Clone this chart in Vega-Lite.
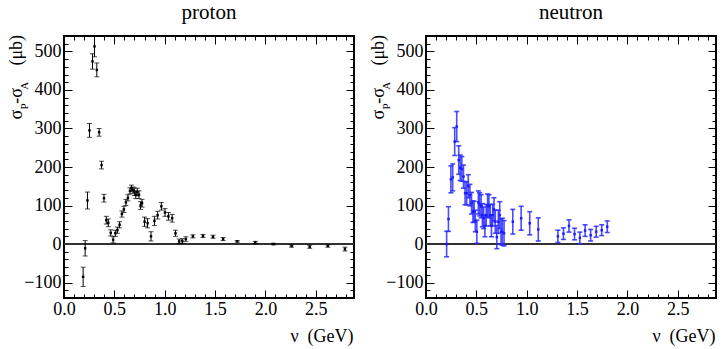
{
  "$schema": "https://vega.github.io/schema/vega-lite/v6.json",
  "background": "white",
  "padding": {"left": 5, "top": 1, "right": 5, "bottom": 5},
  "config": {"view": {"stroke": "black", "strokeWidth": 2}},
  "datasets": {
    "proton": [
      {"nu": 0.19, "sigma": -85, "err": 25},
      {"nu": 0.21, "sigma": -11, "err": 20},
      {"nu": 0.233, "sigma": 113, "err": 22},
      {"nu": 0.253, "sigma": 295, "err": 18},
      {"nu": 0.283, "sigma": 474, "err": 20},
      {"nu": 0.303, "sigma": 513, "err": 27},
      {"nu": 0.326, "sigma": 452, "err": 18},
      {"nu": 0.349, "sigma": 290, "err": 10},
      {"nu": 0.373, "sigma": 205, "err": 10},
      {"nu": 0.397, "sigma": 119, "err": 10},
      {"nu": 0.42, "sigma": 62, "err": 10},
      {"nu": 0.44, "sigma": 55, "err": 10},
      {"nu": 0.464, "sigma": 29, "err": 8},
      {"nu": 0.488, "sigma": 11, "err": 8},
      {"nu": 0.51, "sigma": 28, "err": 8},
      {"nu": 0.53, "sigma": 36, "err": 8},
      {"nu": 0.552, "sigma": 50, "err": 8},
      {"nu": 0.575, "sigma": 78, "err": 8},
      {"nu": 0.595, "sigma": 90, "err": 8},
      {"nu": 0.615, "sigma": 108, "err": 8},
      {"nu": 0.635, "sigma": 120, "err": 8},
      {"nu": 0.655, "sigma": 138, "err": 8},
      {"nu": 0.67, "sigma": 145, "err": 8},
      {"nu": 0.685, "sigma": 140, "err": 8},
      {"nu": 0.698, "sigma": 136, "err": 10},
      {"nu": 0.713, "sigma": 128, "err": 10},
      {"nu": 0.728, "sigma": 135, "err": 10},
      {"nu": 0.745, "sigma": 128, "err": 10},
      {"nu": 0.76, "sigma": 100, "err": 10},
      {"nu": 0.775, "sigma": 106, "err": 10},
      {"nu": 0.8, "sigma": 58, "err": 12},
      {"nu": 0.83, "sigma": 54, "err": 12},
      {"nu": 0.864, "sigma": 20, "err": 12},
      {"nu": 0.898, "sigma": 60, "err": 12},
      {"nu": 0.93, "sigma": 75, "err": 10},
      {"nu": 0.967, "sigma": 98, "err": 10},
      {"nu": 1.003, "sigma": 82, "err": 10},
      {"nu": 1.037, "sigma": 72, "err": 10},
      {"nu": 1.074, "sigma": 67, "err": 10},
      {"nu": 1.107, "sigma": 28, "err": 8},
      {"nu": 1.144, "sigma": 7, "err": 6},
      {"nu": 1.175, "sigma": 8, "err": 6},
      {"nu": 1.21, "sigma": 13, "err": 6},
      {"nu": 1.28, "sigma": 20, "err": 4},
      {"nu": 1.38, "sigma": 21, "err": 4},
      {"nu": 1.48, "sigma": 19, "err": 4},
      {"nu": 1.58, "sigma": 13, "err": 4},
      {"nu": 1.72, "sigma": 7, "err": 2},
      {"nu": 1.9, "sigma": 4, "err": 3},
      {"nu": 2.08, "sigma": 0, "err": 2},
      {"nu": 2.26, "sigma": -5, "err": 3},
      {"nu": 2.44, "sigma": -7, "err": 4},
      {"nu": 2.62, "sigma": -5, "err": 3},
      {"nu": 2.79, "sigma": -13, "err": 5}
    ],
    "neutron": [
      {"nu": 0.205, "sigma": 0, "err": 33},
      {"nu": 0.223, "sigma": 65, "err": 32},
      {"nu": 0.247, "sigma": 168, "err": 35},
      {"nu": 0.265, "sigma": 173, "err": 35},
      {"nu": 0.285, "sigma": 266, "err": 36},
      {"nu": 0.305, "sigma": 305, "err": 39},
      {"nu": 0.325, "sigma": 218, "err": 37},
      {"nu": 0.34, "sigma": 198, "err": 33},
      {"nu": 0.356, "sigma": 195, "err": 32},
      {"nu": 0.372, "sigma": 175, "err": 30},
      {"nu": 0.388, "sigma": 132, "err": 30},
      {"nu": 0.404, "sigma": 132, "err": 30},
      {"nu": 0.42, "sigma": 150, "err": 30},
      {"nu": 0.436, "sigma": 127, "err": 28},
      {"nu": 0.452, "sigma": 106, "err": 28},
      {"nu": 0.466, "sigma": 84, "err": 28},
      {"nu": 0.478, "sigma": 84, "err": 27},
      {"nu": 0.49, "sigma": 60, "err": 28},
      {"nu": 0.505, "sigma": 32, "err": 30},
      {"nu": 0.52, "sigma": 108, "err": 30},
      {"nu": 0.533, "sigma": 103, "err": 30},
      {"nu": 0.547, "sigma": 98, "err": 30},
      {"nu": 0.56, "sigma": 75, "err": 30},
      {"nu": 0.573, "sigma": 68, "err": 28},
      {"nu": 0.585, "sigma": 47, "err": 28},
      {"nu": 0.598, "sigma": 75, "err": 28},
      {"nu": 0.612, "sigma": 100, "err": 30},
      {"nu": 0.625, "sigma": 98, "err": 30},
      {"nu": 0.638, "sigma": 75, "err": 28},
      {"nu": 0.65, "sigma": 47, "err": 28},
      {"nu": 0.662, "sigma": 75, "err": 28},
      {"nu": 0.675, "sigma": 90, "err": 30},
      {"nu": 0.688, "sigma": 58, "err": 30},
      {"nu": 0.703, "sigma": 18, "err": 30},
      {"nu": 0.718, "sigma": 58, "err": 30},
      {"nu": 0.732, "sigma": 75, "err": 35},
      {"nu": 0.745, "sigma": 32, "err": 33},
      {"nu": 0.758, "sigma": 32, "err": 35},
      {"nu": 0.775, "sigma": 28, "err": 33},
      {"nu": 0.862, "sigma": 58, "err": 32},
      {"nu": 0.945, "sigma": 67, "err": 31},
      {"nu": 1.03, "sigma": 54, "err": 30},
      {"nu": 1.115, "sigma": 38, "err": 30},
      {"nu": 1.31, "sigma": 20, "err": 16},
      {"nu": 1.365, "sigma": 27, "err": 15},
      {"nu": 1.42, "sigma": 47, "err": 16},
      {"nu": 1.475, "sigma": 26, "err": 15},
      {"nu": 1.528, "sigma": 16, "err": 15},
      {"nu": 1.58, "sigma": 35, "err": 15},
      {"nu": 1.635, "sigma": 23, "err": 15},
      {"nu": 1.69, "sigma": 32, "err": 14},
      {"nu": 1.745, "sigma": 36, "err": 14},
      {"nu": 1.8, "sigma": 45, "err": 15}
    ]
  },
  "hconcat": [
    {
      "title": {"text": "proton", "font": "Liberation Serif", "fontSize": 21, "fontWeight": "normal", "color": "black", "baseline": "alphabetic", "offset": -6},
      "width": 290,
      "height": 262,
      "data": {"name": "proton"},
      "resolve": {"axis": {"x": "independent", "y": "independent"}},
      "layer": [
        {
          "mark": {"type": "rule", "color": "#333333", "strokeWidth": 1.2},
          "encoding": {
            "y": {"datum": 0, "type": "quantitative", "scale": {"domain": [-140, 540], "nice": false, "zero": false},
              "axis": {"orient": "left", "labels": false, "ticks": false, "domain": false, "grid": false, "title": "P\u2003\u2005A", "titleFont": "Liberation Serif", "titleFontSize": 11, "titleFontWeight": "normal", "titleColor": "black", "titleAngle": 270, "titleAlign": "left", "titleBaseline": "alphabetic", "titleX": -37, "titleY": 73}}
          }
        },
        {
          "mark": {"type": "errorbar", "color": "black", "thickness": 1, "ticks": {"size": 5, "color": "black"}, "clip": true},
          "encoding": {
            "x": {"field": "nu", "type": "quantitative", "scale": {"domain": [0, 2.88], "nice": false, "zero": false},
              "axis": {"orient": "bottom", "values": [0, 0.5, 1, 1.5, 2, 2.5], "format": ".1f",
                "labelFont": "Liberation Serif", "labelFontSize": 18, "labelColor": "black", "labelFlush": false, "labelOverlap": false, "labelBound": false, "labelPadding": 10,
                "tickSize": -8, "tickColor": "black", "tickWidth": 1, "domain": false, "grid": false,
                "title": "ν\u2002(GeV)", "titleFont": "Liberation Serif", "titleFontSize": 18, "titleFontWeight": "normal", "titleColor": "black", "titleAlign": "right", "titleBaseline": "alphabetic", "titleX": 289, "titleY": 43}},
            "y": {"field": "sigma", "type": "quantitative", "scale": {"domain": [-140, 540], "nice": false, "zero": false},
              "axis": {"orient": "left", "values": [-100, 0, 100, 200, 300, 400, 500], "format": "d",
                "labelFont": "Liberation Serif", "labelFontSize": 18, "labelColor": "black", "labelFlush": false, "labelOverlap": false, "labelBound": false, "labelPadding": 11,
                "tickSize": -8, "tickColor": "black", "tickWidth": 1, "domain": false, "grid": false,
                "title": "σ\u2004-σ\u2003\u2005(μb)", "titleFont": "Liberation Serif", "titleFontSize": 18, "titleFontWeight": "normal", "titleColor": "black", "titleAngle": 270, "titleAlign": "left", "titleBaseline": "alphabetic", "titleX": -43, "titleY": 83}},
            "yError": {"field": "err"}
          }
        },
        {
          "mark": {"type": "square", "color": "black", "size": 6, "opacity": 1, "clip": true},
          "encoding": {
            "x": {"field": "nu", "type": "quantitative", "scale": {"domain": [0, 2.88], "nice": false, "zero": false},
              "axis": {"orient": "top", "values": [0, 0.5, 1, 1.5, 2, 2.5], "labels": false, "tickSize": -8, "tickColor": "black", "tickWidth": 1, "domain": false, "grid": false, "title": null}},
            "y": {"field": "sigma", "type": "quantitative", "scale": {"domain": [-140, 540], "nice": false, "zero": false},
              "axis": {"orient": "right", "values": [-100, 0, 100, 200, 300, 400, 500], "labels": false, "tickSize": -8, "tickColor": "black", "tickWidth": 1, "domain": false, "grid": false, "title": null}}
          }
        },
        {
          "mark": {"type": "square", "size": 1, "opacity": 0},
          "encoding": {
            "x": {"field": "nu", "type": "quantitative", "scale": {"domain": [0, 2.88], "nice": false, "zero": false},
              "axis": {"orient": "bottom", "values": [0.1,0.2,0.3,0.4,0.6,0.7,0.8,0.9,1.1,1.2,1.3,1.4,1.6,1.7,1.8,1.9,2.1,2.2,2.3,2.4,2.6,2.7,2.8], "labels": false, "tickSize": -4, "tickColor": "black", "tickWidth": 1, "domain": false, "grid": false, "title": null}},
            "y": {"field": "sigma", "type": "quantitative", "scale": {"domain": [-140, 540], "nice": false, "zero": false},
              "axis": {"orient": "left", "values": [-120,-80,-60,-40,-20,20,40,60,80,120,140,160,180,220,240,260,280,320,340,360,380,420,440,460,480,520], "labels": false, "tickSize": -4, "tickColor": "black", "tickWidth": 1, "domain": false, "grid": false, "title": null}}
          }
        },
        {
          "mark": {"type": "square", "size": 1, "opacity": 0},
          "encoding": {
            "x": {"field": "nu", "type": "quantitative", "scale": {"domain": [0, 2.88], "nice": false, "zero": false},
              "axis": {"orient": "top", "values": [0.1,0.2,0.3,0.4,0.6,0.7,0.8,0.9,1.1,1.2,1.3,1.4,1.6,1.7,1.8,1.9,2.1,2.2,2.3,2.4,2.6,2.7,2.8], "labels": false, "tickSize": -4, "tickColor": "black", "tickWidth": 1, "domain": false, "grid": false, "title": null}},
            "y": {"field": "sigma", "type": "quantitative", "scale": {"domain": [-140, 540], "nice": false, "zero": false},
              "axis": {"orient": "right", "values": [-120,-80,-60,-40,-20,20,40,60,80,120,140,160,180,220,240,260,280,320,340,360,380,420,440,460,480,520], "labels": false, "tickSize": -4, "tickColor": "black", "tickWidth": 1, "domain": false, "grid": false, "title": null}}
          }
        }
      ]
    },
    {
      "title": {"text": "neutron", "font": "Liberation Serif", "fontSize": 21, "fontWeight": "normal", "color": "black", "baseline": "alphabetic", "offset": -6},
      "width": 290,
      "height": 262,
      "data": {"name": "neutron"},
      "resolve": {"axis": {"x": "independent", "y": "independent"}},
      "layer": [
        {
          "mark": {"type": "rule", "color": "#333333", "strokeWidth": 1.2},
          "encoding": {
            "y": {"datum": 0, "type": "quantitative", "scale": {"domain": [-140, 540], "nice": false, "zero": false},
              "axis": {"orient": "left", "labels": false, "ticks": false, "domain": false, "grid": false, "title": "P\u2003\u2005A", "titleFont": "Liberation Serif", "titleFontSize": 11, "titleFontWeight": "normal", "titleColor": "black", "titleAngle": 270, "titleAlign": "left", "titleBaseline": "alphabetic", "titleX": -37, "titleY": 73}}
          }
        },
        {
          "mark": {"type": "errorbar", "color": "#2b2bff", "thickness": 1.6, "opacity": 0.85, "ticks": {"size": 5, "color": "#2b2bff"}, "clip": true},
          "encoding": {
            "x": {"field": "nu", "type": "quantitative", "scale": {"domain": [0, 2.88], "nice": false, "zero": false},
              "axis": {"orient": "bottom", "values": [0, 0.5, 1, 1.5, 2, 2.5], "format": ".1f",
                "labelFont": "Liberation Serif", "labelFontSize": 18, "labelColor": "black", "labelFlush": false, "labelOverlap": false, "labelBound": false, "labelPadding": 10,
                "tickSize": -8, "tickColor": "black", "tickWidth": 1, "domain": false, "grid": false,
                "title": "ν\u2002(GeV)", "titleFont": "Liberation Serif", "titleFontSize": 18, "titleFontWeight": "normal", "titleColor": "black", "titleAlign": "right", "titleBaseline": "alphabetic", "titleX": 289, "titleY": 43}},
            "y": {"field": "sigma", "type": "quantitative", "scale": {"domain": [-140, 540], "nice": false, "zero": false},
              "axis": {"orient": "left", "values": [-100, 0, 100, 200, 300, 400, 500], "format": "d",
                "labelFont": "Liberation Serif", "labelFontSize": 18, "labelColor": "black", "labelFlush": false, "labelOverlap": false, "labelBound": false, "labelPadding": 11,
                "tickSize": -8, "tickColor": "black", "tickWidth": 1, "domain": false, "grid": false,
                "title": "σ\u2004-σ\u2003\u2005(μb)", "titleFont": "Liberation Serif", "titleFontSize": 18, "titleFontWeight": "normal", "titleColor": "black", "titleAngle": 270, "titleAlign": "left", "titleBaseline": "alphabetic", "titleX": -43, "titleY": 83}},
            "yError": {"field": "err"}
          }
        },
        {
          "mark": {"type": "square", "color": "#1a1aff", "size": 6, "opacity": 1, "clip": true},
          "encoding": {
            "x": {"field": "nu", "type": "quantitative", "scale": {"domain": [0, 2.88], "nice": false, "zero": false},
              "axis": {"orient": "top", "values": [0, 0.5, 1, 1.5, 2, 2.5], "labels": false, "tickSize": -8, "tickColor": "black", "tickWidth": 1, "domain": false, "grid": false, "title": null}},
            "y": {"field": "sigma", "type": "quantitative", "scale": {"domain": [-140, 540], "nice": false, "zero": false},
              "axis": {"orient": "right", "values": [-100, 0, 100, 200, 300, 400, 500], "labels": false, "tickSize": -8, "tickColor": "black", "tickWidth": 1, "domain": false, "grid": false, "title": null}}
          }
        },
        {
          "mark": {"type": "square", "size": 1, "opacity": 0},
          "encoding": {
            "x": {"field": "nu", "type": "quantitative", "scale": {"domain": [0, 2.88], "nice": false, "zero": false},
              "axis": {"orient": "bottom", "values": [0.1,0.2,0.3,0.4,0.6,0.7,0.8,0.9,1.1,1.2,1.3,1.4,1.6,1.7,1.8,1.9,2.1,2.2,2.3,2.4,2.6,2.7,2.8], "labels": false, "tickSize": -4, "tickColor": "black", "tickWidth": 1, "domain": false, "grid": false, "title": null}},
            "y": {"field": "sigma", "type": "quantitative", "scale": {"domain": [-140, 540], "nice": false, "zero": false},
              "axis": {"orient": "left", "values": [-120,-80,-60,-40,-20,20,40,60,80,120,140,160,180,220,240,260,280,320,340,360,380,420,440,460,480,520], "labels": false, "tickSize": -4, "tickColor": "black", "tickWidth": 1, "domain": false, "grid": false, "title": null}}
          }
        },
        {
          "mark": {"type": "square", "size": 1, "opacity": 0},
          "encoding": {
            "x": {"field": "nu", "type": "quantitative", "scale": {"domain": [0, 2.88], "nice": false, "zero": false},
              "axis": {"orient": "top", "values": [0.1,0.2,0.3,0.4,0.6,0.7,0.8,0.9,1.1,1.2,1.3,1.4,1.6,1.7,1.8,1.9,2.1,2.2,2.3,2.4,2.6,2.7,2.8], "labels": false, "tickSize": -4, "tickColor": "black", "tickWidth": 1, "domain": false, "grid": false, "title": null}},
            "y": {"field": "sigma", "type": "quantitative", "scale": {"domain": [-140, 540], "nice": false, "zero": false},
              "axis": {"orient": "right", "values": [-120,-80,-60,-40,-20,20,40,60,80,120,140,160,180,220,240,260,280,320,340,360,380,420,440,460,480,520], "labels": false, "tickSize": -4, "tickColor": "black", "tickWidth": 1, "domain": false, "grid": false, "title": null}}
          }
        }
      ]
    }
  ],
  "spacing": 72,
  "bounds": "flush"
}
